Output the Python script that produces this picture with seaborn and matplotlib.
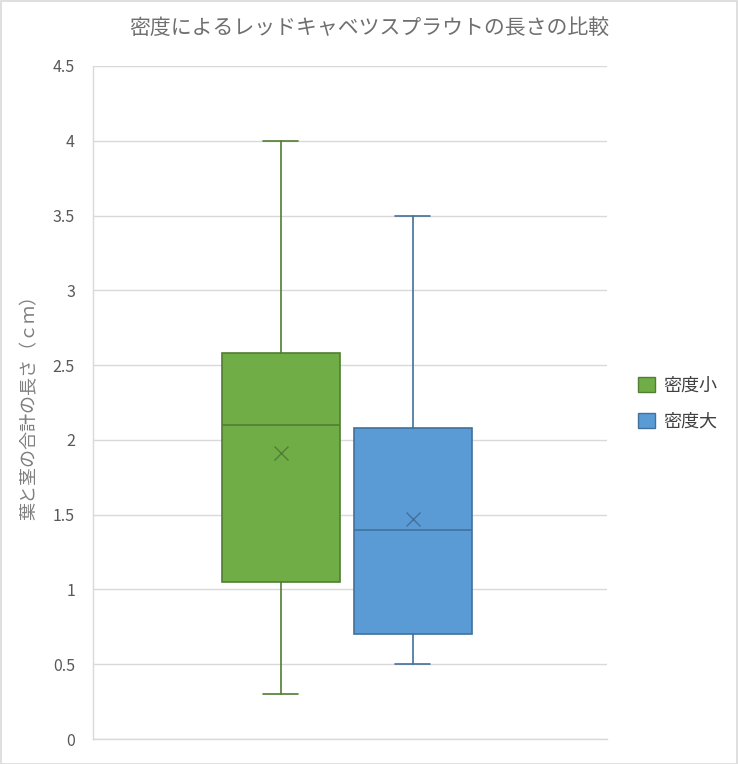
import matplotlib
matplotlib.use("Agg")
import matplotlib.pyplot as plt
import seaborn as sns
from matplotlib.patches import Patch, Rectangle

sns.set_theme(style="white")
plt.rcParams['font.family'] = ['Noto Sans CJK JP', 'DejaVu Sans']

# Data
series = ["密度小", "密度大"]
whisker_low = [0.30, 0.50]
q1 = [1.05, 0.70]
median = [2.10, 1.40]
q3 = [2.58, 2.08]
whisker_high = [4.00, 3.50]
means = [1.91, 1.47]
yticks = [0, 0.5, 1, 1.5, 2, 2.5, 3, 3.5, 4, 4.5]
ytick_labels = ["0", "0.5", "1", "1.5", "2", "2.5", "3", "3.5", "4", "4.5"]
title = "密度によるレッドキャベツスプラウトの長さの比較"
ylabel = "葉と茎の合計の長さ（ｃｍ）"

fills = ["#70AD47", "#5B9BD5"]
edges = ["#507E32", "#41719C"]
positions = [-0.27, 0.245]

fig = plt.figure(figsize=(7.38, 7.64), dpi=100)
ax = fig.add_axes([93/738, 25/764, 514/738, 673/764])

for i, name in enumerate(series):
    stats = [dict(label=name, whislo=whisker_low[i], q1=q1[i], med=median[i],
                  q3=q3[i], whishi=whisker_high[i], mean=means[i], fliers=[])]
    ax.bxp(stats, positions=[positions[i]], widths=0.46, capwidths=0.136,
           showmeans=True, patch_artist=True, manage_ticks=False,
           boxprops=dict(facecolor=fills[i], edgecolor=edges[i], linewidth=1.2),
           medianprops=dict(color=edges[i], linewidth=1.2),
           whiskerprops=dict(color=edges[i], linewidth=1.2),
           capprops=dict(color=edges[i], linewidth=1.2),
           meanprops=dict(marker="x", markeredgecolor=edges[i], markersize=10,
                          markeredgewidth=1.0))

ax.set_xlim(-1, 1)
ax.set_ylim(0, 4.5)
ax.set_yticks(yticks)
ax.set_yticklabels(ytick_labels, fontsize=11.5, color="#595959")
ax.set_xticks([])
ax.yaxis.grid(True, color="#D9D9D9", linewidth=1)
ax.set_axisbelow(True)
ax.tick_params(axis="y", length=0, pad=13)
for s in ["top", "right"]:
    ax.spines[s].set_visible(False)
for s in ["left", "bottom"]:
    ax.spines[s].set_color("#D9D9D9")
    ax.spines[s].set_linewidth(1)

ax.set_ylabel(ylabel, fontsize=13, color="#7F7F7F", labelpad=10)
fig.text(0.5, 1 - 28/764, title, ha="center", va="center",
         fontsize=15, color="#6F6F6F")

handles = [Patch(facecolor=fills[i], edgecolor=edges[i], label=series[i]) for i in range(2)]
leg = fig.legend(handles=handles, loc="center left", bbox_to_anchor=(622/738, 1 - 404/764),
                 frameon=False, fontsize=13, labelspacing=1.0, handlelength=0.9,
                 handleheight=0.9, handletextpad=0.5)
for t in leg.get_texts():
    t.set_color("#404040")

fig.patches.append(Rectangle((0.5/738, 0.5/764), 1 - 1.5/738, 1 - 1.5/764,
                             transform=fig.transFigure, fill=False,
                             edgecolor="#D9D9D9", linewidth=1.2))

fig.savefig("out.png", dpi=100)
